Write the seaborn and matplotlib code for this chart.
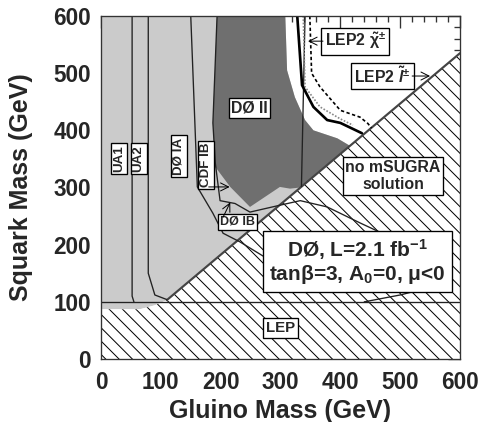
import numpy as np
import matplotlib
matplotlib.use("Agg")
import matplotlib.pyplot as plt
import seaborn as sns
from matplotlib.ticker import MultipleLocator

# ---------- data (GeV) ----------
# boundary of the theoretically forbidden (hatched) region
nosol_x = [0, 65, 90, 110, 600]
nosol_y = [87, 87, 94, 103, 535]

# DØ Run II excluded region (dark)
d0ii_x = [194, 187, 191, 216, 249, 299, 316, 333, 416, 395, 355, 341, 324, 311, 308]
d0ii_y = [600, 413, 336, 301, 266, 301, 298, 300, 373, 386, 400, 418, 458, 505, 600]

# earlier limits
ua1_x = [52, 52, 55]
ua1_y = [600, 110, 100]
ua2_x = [79, 79, 90, 110]
ua2_y = [600, 150, 112, 104]
d0ia_x = [150, 161, 187, 204, 232, 271, 300]
d0ia_y = [600, 301, 255, 220, 205, 180, 165]
cdfib_x = [194, 187, 191, 199, 224, 249, 299, 333, 378, 433, 480]
cdfib_y = [600, 413, 343, 277, 272, 257, 269, 277, 266, 238, 215]
lower_x = [440, 500, 545, 570]
lower_y = [100, 112, 124, 135]

# LEP2 limits
chargino_x = [328, 336, 355, 378, 400, 436]
chargino_y = [600, 479, 441, 418, 413, 395]
chargino2_x = [338, 341, 366, 400, 421]
chargino2_y = [600, 476, 441, 420, 409]
thin_x = [341, 335]
thin_y = [600, 302]
slepton_x = [349, 352, 366, 400, 433, 446, 452]
slepton_y = [600, 500, 476, 435, 423, 412, 404]

lep_y = 100

ticks = [0, 100, 200, 300, 400, 500, 600]

LIGHT = "#cbcbcb"
DARK = "#6f6f6f"

sns.set_theme(style="white")
plt.rcParams["font.family"] = ["Liberation Sans", "DejaVu Sans"]
plt.rcParams["mathtext.fontset"] = "custom"
plt.rcParams["mathtext.rm"] = "Liberation Sans:bold"
plt.rcParams["mathtext.bf"] = "Liberation Sans:bold"
plt.rcParams["mathtext.it"] = "Liberation Sans:italic:bold"
plt.rcParams["mathtext.default"] = "rm"
plt.rcParams["hatch.linewidth"] = 0.6
plt.rcParams["hatch.color"] = "black"

fig = plt.figure(figsize=(4.0, 422 / 120), dpi=120)
ax = fig.add_axes([101 / 480, 1 - 359 / 422, 359 / 480, 343 / 422])

# light gray: everything allowed and left of the dark region's right edge
lg_x = nosol_x[:-1] + [416, 395, 355, 341, 324, 311, 308, 0]
lg_y = nosol_y[:-1] + [373, 386, 400, 418, 458, 505, 600, 600]
ax.fill(lg_x, lg_y, color=LIGHT, lw=0, zorder=1)
ax.fill(d0ii_x, d0ii_y, color=DARK, lw=0, zorder=2)

# hatched no-solution region
hx = [0] + nosol_x + [600]
hy = [0] + nosol_y + [0]
ax.fill(hx, hy, facecolor="white", edgecolor="black", hatch="\\\\\\", lw=0, zorder=3)
ax.plot(nosol_x[3:], nosol_y[3:], color="#444444", lw=1.3, zorder=4)

def line(x, y, **kw):
    sns.lineplot(x=x, y=y, sort=False, estimator=None, ax=ax, legend=False, **kw)

line(ua1_x, ua1_y, color="#222222", lw=0.8, zorder=5)
line(ua2_x, ua2_y, color="#222222", lw=0.8, zorder=5)
line(d0ia_x, d0ia_y, color="#222222", lw=0.8, zorder=5)
line(cdfib_x, cdfib_y, color="#222222", lw=0.8, zorder=5)
line(lower_x, lower_y, color="#222222", lw=0.8, zorder=5)
line(thin_x, thin_y, color="#222222", lw=0.8, zorder=5)
line(chargino2_x, chargino2_y, color="#888888", lw=1.0, ls=(0, (1, 1)), zorder=5)
line(chargino_x, chargino_y, color="black", lw=1.6, zorder=6)
line(slepton_x, slepton_y, color="black", lw=1.0, ls=(0, (2, 1.5)), zorder=6)
ax.axhline(lep_y, color="#222222", lw=0.8, zorder=5)

def label(x, y, s, size, rot=0, pad=0.15):
    b = dict(boxstyle=f"square,pad={pad}", fc="white", ec="black", lw=0.8)
    ax.text(x, y, s, fontsize=size, fontweight="bold", rotation=rot,
            ha="center", va="center", bbox=b, zorder=10)

label(30, 351, "UA1", 8, rot=90)
label(63, 351, "UA2", 8, rot=90)
label(130, 355, "DØ IA", 8, rot=90)
label(176, 339, "CDF IB", 8, rot=90)
label(228, 240, "DØ IB", 7.5)
label(248, 439, "DØ II", 9.5)
label(300, 54, "LEP", 9, pad=0.2)
label(425, 556, r"LEP2 $\tilde{\chi}^{\pm}$", 9.5, pad=0.2)
label(470, 495, r"LEP2 $\tilde{\it{l}}^{\pm}$", 9.5, pad=0.2)
label(488, 320, "no mSUGRA\nsolution", 9.5, pad=0.15)
ax.text(428, 171, "DØ, L=2.1 fb$^{-1}$\ntan$\\beta$=3, A$_0$=0, $\\mu$<0",
        fontsize=12.5, fontweight="bold", ha="center", va="center",
        linespacing=1.05, zorder=10,
        bbox=dict(boxstyle="square,pad=0.3", fc="white", ec="black", lw=0.8))

arrow = dict(arrowstyle="->", color="black", lw=0.6, shrinkA=0, shrinkB=0)
ax.annotate("", xy=(346, 556), xytext=(371, 556), arrowprops=arrow, zorder=11)
ax.annotate("", xy=(550, 495), xytext=(520, 495), arrowprops=arrow, zorder=11)
ax.annotate("", xy=(215, 301), xytext=(180, 301), arrowprops=arrow, zorder=11)
ax.annotate("", xy=(216, 274), xytext=(204, 248), arrowprops=arrow, zorder=11)

ax.set_xlim(0, 600)
ax.set_ylim(0, 600)
ax.set_xticks(ticks)
ax.set_yticks(ticks)
ax.xaxis.set_minor_locator(MultipleLocator(20))
ax.yaxis.set_minor_locator(MultipleLocator(20))
ax.tick_params(which="both", direction="in", top=True, right=True,
               color="#333333", width=0.8)
ax.tick_params(which="major", length=7, labelsize=13.5, pad=6)
ax.tick_params(which="minor", length=3.5)
ax.tick_params(axis="x", which="major", pad=7)
for t in ax.get_xticklabels() + ax.get_yticklabels():
    t.set_fontweight("bold")
for s in ax.spines.values():
    s.set_color("#333333")
    s.set_linewidth(0.8)
    s.set_zorder(12)

ax.set_xlabel("Gluino Mass (GeV)", fontsize=15, fontweight="bold")
ax.set_ylabel("Squark Mass (GeV)", fontsize=15, fontweight="bold")
ax.xaxis.set_label_coords(0.5, -0.118)
ax.yaxis.set_label_coords(-0.19, 0.5)

fig.savefig("out.png", dpi=120)
